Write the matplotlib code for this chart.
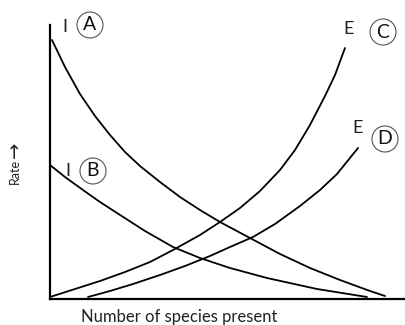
import matplotlib
matplotlib.use('Agg')
import matplotlib.pyplot as plt
from matplotlib.patches import Circle

plt.rcParams['font.family'] = ['Lato', 'DejaVu Sans']

# 曲线数据（从图上读取，单位为像素，原点在坐标轴交点）
curve_A_x = [2, 15, 30, 45, 60, 75, 90, 110, 130, 150, 170, 200, 230, 260, 290, 320, 335]
curve_A_y = [259, 232, 205, 183, 164, 147, 133, 117, 102, 89, 77, 61, 45, 31, 19, 8, 3]
curve_B_x = [0, 15, 33, 50, 67, 95, 123, 150, 180, 217, 267, 317]
curve_B_y = [134, 122, 109, 97, 86, 68, 52, 41, 31, 21, 10, 2]
curve_C_x = [0, 25, 50, 75, 100, 123, 150, 170, 190, 210, 230, 245, 260, 275, 285, 295]
curve_C_y = [2, 10, 18, 27, 37, 49, 64, 77, 91, 108, 129, 149, 174, 203, 224, 251]
curve_D_x = [38, 60, 83, 110, 135, 160, 180, 203, 225, 250, 270, 287, 308]
curve_D_y = [2, 8, 15, 24, 33, 43, 52, 62, 75, 93, 109, 125, 151]

# 标签: (文字, x, y, 字母, 圆心x, 圆心y)
labels = [('I', 15, 272, 'A', 40, 274),
          ('I', 18, 128, 'B', 43, 128),
          ('E', 299, 270, 'C', 333, 267),
          ('E', 308, 171, 'D', 335, 160)]

fig = plt.figure(figsize=(4.06, 3.25), dpi=100)
ax = fig.add_axes([50/406, 26/325, 356/406, 274/325])
ax.set_xlim(0, 356)
ax.set_ylim(0, 274)

for xs, ys in [(curve_A_x, curve_A_y), (curve_B_x, curve_B_y),
               (curve_C_x, curve_C_y), (curve_D_x, curve_D_y)]:
    ax.plot(xs, ys, color='black', linewidth=1.3, solid_capstyle='round',
            solid_joinstyle='round')

for s in ['top', 'right']:
    ax.spines[s].set_visible(False)
for s in ['left', 'bottom']:
    ax.spines[s].set_linewidth(1.6)
ax.set_xticks([])
ax.set_yticks([])

for t, tx, ty, letter, cx, cy in labels:
    ax.text(tx, ty, t, fontsize=13, ha='center', va='center', color='#222222', clip_on=False)
    ax.add_patch(Circle((cx, cy), 13, fill=False, edgecolor='#555555', linewidth=0.8, clip_on=False))
    ax.text(cx, cy, letter, fontsize=14, ha='center', va='center', color='#111111', clip_on=False)

fig.text(179/406, 1 - 317/325, 'Number of species present', fontsize=12,
         ha='center', va='center', color='#222222')
fig.text(15/406, 1 - 171/325, 'Rate', fontsize=9, rotation=90,
         ha='center', va='center', color='#222222')
fig.text(15/406, 1 - 150/325, '\u2192', fontsize=14, rotation=90,
         ha='center', va='center', color='#222222', family=['DejaVu Sans'])

fig.savefig('out.png', dpi=100, facecolor='white')
